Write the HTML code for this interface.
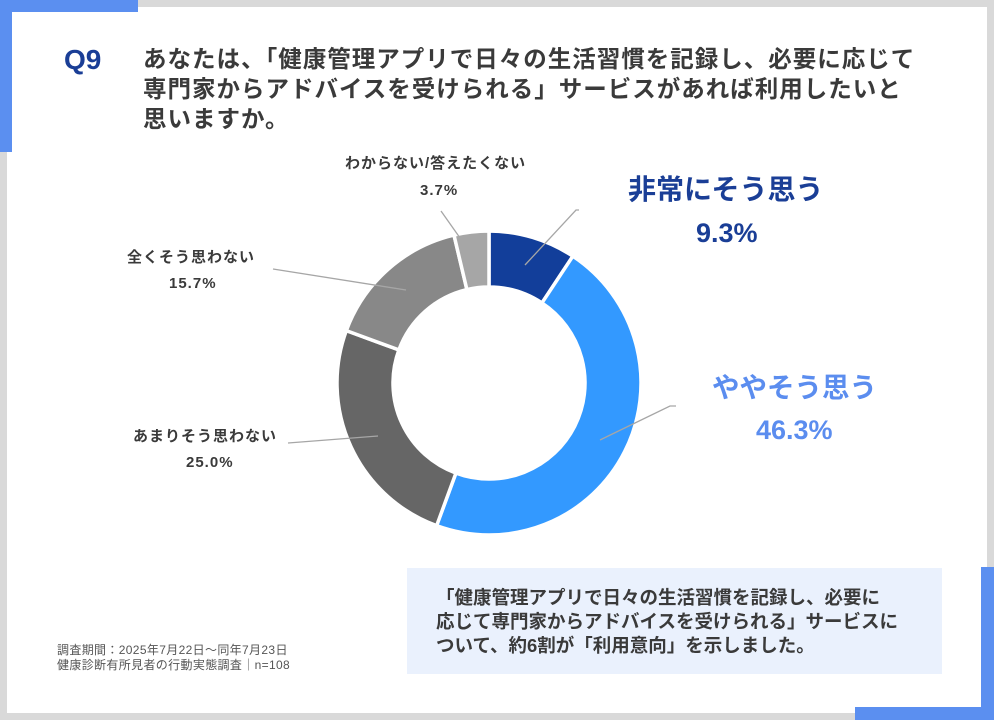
<!DOCTYPE html>
<html><head><meta charset="utf-8"><style>
html,body{margin:0;padding:0;}
body{width:994px;height:720px;position:relative;overflow:hidden;background:#fff;font-family:"Liberation Sans","Noto Sans CJK JP",sans-serif;}
.abs{position:absolute;white-space:nowrap;}
.sm{font-size:15px;font-weight:bold;color:#3a3a3a;letter-spacing:1px;}
</style></head><body>
<div class="abs" style="left:0;top:0;width:994px;height:720px;box-sizing:border-box;border:7px solid #d9d9d9;"></div>
<div class="abs" style="left:0;top:0;width:138px;height:12px;background:#5b8ff0;"></div>
<div class="abs" style="left:0;top:0;width:12px;height:152px;background:#5b8ff0;"></div>
<div class="abs" style="left:981px;top:567px;width:13px;height:153px;background:#5b8ff0;"></div>
<div class="abs" style="left:855px;top:707px;width:139px;height:13px;background:#5b8ff0;"></div>

<div class="abs" style="left:64px;top:44px;font-size:28px;font-weight:bold;color:#1a3e96;">Q9</div>
<div class="abs" style="left:143px;top:44px;font-size:23.5px;line-height:30px;font-weight:bold;color:#3a3a3a;letter-spacing:1px;">あなたは、「健康管理アプリで日々の生活習慣を記録し、必要に応じて<br>専門家からアドバイスを受けられる」サービスがあれば利用したいと<br>思いますか。</div>

<svg class="abs" style="left:0;top:0" width="994" height="720" id="s">
<g id="g"></g>
<g stroke="#a6a6a6" stroke-width="1.3" fill="none">
<polyline points="525,265 576,210 579,210"/>
<polyline points="600,440 670,406 676,406"/>
<polyline points="378,436 288,443"/>
<polyline points="406,290 273,269"/>
<polyline points="477,262 441,211"/>
</g>
</svg>
<script>
(function(){var cx=489,cy=383,R=152,r=96;var d=[[9.3,"#123e9a"],[46.3,"#3399ff"],[25.0,"#666666"],[15.7,"#888888"],[3.7,"#a6a6a6"]];
var a=0,h="";function p(ang,rad){var t=(ang-90)*Math.PI/180;return (cx+rad*Math.cos(t)).toFixed(2)+","+(cy+rad*Math.sin(t)).toFixed(2);}
d.forEach(function(x){var s=a,e=a+x[0]*3.6;a=e;var l=(e-s)>180?1:0;
h+='<path d="M'+p(s,R)+' A'+R+','+R+' 0 '+l+' 1 '+p(e,R)+' L'+p(e,r)+' A'+r+','+r+' 0 '+l+' 0 '+p(s,r)+' Z" fill="'+x[1]+'" stroke="#fff" stroke-width="3.5"/>';});
document.getElementById("g").innerHTML=h;})();
</script>

<div class="abs sm" style="left:345px;top:152px;">わからない/答えたくない</div>
<div class="abs sm" style="left:420px;top:182px;">3.7%</div>
<div class="abs sm" style="left:127px;top:246px;">全くそう思わない</div>
<div class="abs sm" style="left:169px;top:275px;">15.7%</div>
<div class="abs sm" style="left:133px;top:425px;">あまりそう思わない</div>
<div class="abs sm" style="left:186px;top:454px;">25.0%</div>

<div class="abs" style="left:628px;top:168px;font-size:28px;font-weight:bold;color:#1a3e96;">非常にそう思う</div>
<div class="abs" style="left:696px;top:218px;font-size:27px;font-weight:bold;color:#1a3e96;">9.3%</div>
<div class="abs" style="left:712px;top:365px;font-size:27.5px;font-weight:bold;color:#5b8def;">ややそう思う</div>
<div class="abs" style="left:756px;top:415px;font-size:27px;font-weight:bold;color:#5b8def;">46.3%</div>

<div class="abs" style="left:407px;top:568px;width:535px;height:106px;background:#eaf1fd;"></div>
<div class="abs" style="left:436px;top:586px;font-size:18.5px;line-height:24px;font-weight:bold;color:#3a3a3a;">「健康管理アプリで日々の生活習慣を記録し、必要に<br>応じて専門家からアドバイスを受けられる」サービスに<br>ついて、約6割が「利用意向」を示しました。</div>

<div class="abs" style="left:57px;top:643px;font-size:12px;line-height:15px;color:#555;letter-spacing:0.35px;">調査期間：2025年7月22日～同年7月23日<br>健康診断有所見者の行動実態調査｜n=108</div>
</body></html>
